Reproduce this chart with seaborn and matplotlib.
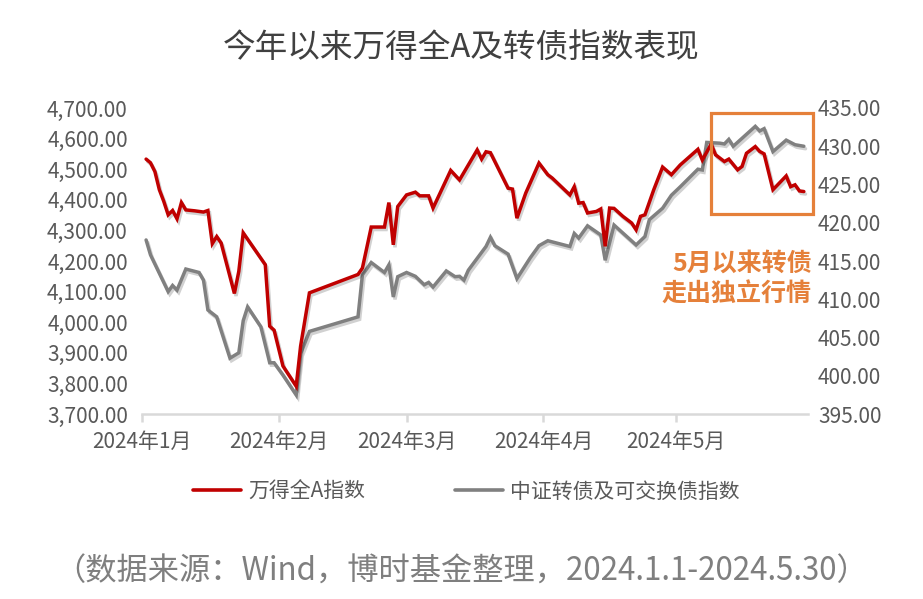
import matplotlib
matplotlib.use("Agg")
import matplotlib.pyplot as plt
import matplotlib.patheffects as pe
from matplotlib.patches import Rectangle
import seaborn as sns
import pandas as pd

# ---------------- data ----------------
red_dates = ["01-02", "01-03", "01-04", "01-05", "01-06", "01-07", "01-08", "01-09", "01-10", "01-11",
             "01-13", "01-15", "01-16", "01-17", "01-18", "01-19", "01-22", "01-23", "01-24", "01-29",
             "01-30", "01-31", "02-02", "02-05", "02-06", "02-08", "02-19", "02-20", "02-22", "02-25",
             "02-26", "02-27", "02-28", "03-01", "03-03", "03-04", "03-06", "03-07", "03-11", "03-13",
             "03-17", "03-18", "03-19", "03-20", "03-22", "03-24", "03-25", "03-26", "03-28", "03-31",
             "04-02", "04-03", "04-07", "04-08", "04-09", "04-10", "04-11", "04-13", "04-14", "04-15",
             "04-16", "04-17", "04-19", "04-21", "04-22", "04-23", "04-24", "04-26", "04-28", "04-30",
             "05-02", "05-06", "05-07", "05-09", "05-10", "05-12", "05-13", "05-15", "05-16", "05-17",
             "05-19", "05-20", "05-21", "05-23", "05-26", "05-27", "05-28", "05-29", "05-30"]
red_values = [4533, 4521, 4492, 4433, 4395, 4351, 4365, 4338, 4391, 4367,
              4364, 4360, 4365, 4257, 4280, 4259, 4094, 4166, 4292, 4188,
              3987, 3974, 3857, 3791, 3922, 4096, 4156, 4177, 4311, 4311,
              4391, 4253, 4378, 4416, 4425, 4413, 4413, 4373, 4496, 4465,
              4563, 4533, 4557, 4554, 4496, 4438, 4435, 4340, 4422, 4520,
              4482, 4471, 4416, 4443, 4389, 4391, 4357, 4362, 4370, 4248,
              4373, 4372, 4346, 4324, 4302, 4346, 4351, 4433, 4507, 4482,
              4514, 4565, 4530, 4582, 4547, 4525, 4533, 4498, 4509, 4552,
              4574, 4558, 4550, 4433, 4478, 4443, 4449, 4429, 4427]

gray_dates = ["01-02", "01-03", "01-05", "01-07", "01-08", "01-09", "01-11", "01-14", "01-15", "01-16",
              "01-18", "01-21", "01-23", "01-24", "01-25", "01-28", "01-30", "01-31", "02-02", "02-05",
              "02-06", "02-08", "02-19", "02-20", "02-22", "02-25", "02-26", "02-27", "02-28", "03-01",
              "03-03", "03-05", "03-06", "03-07", "03-10", "03-12", "03-13", "03-14", "03-15", "03-19",
              "03-20", "03-21", "03-24", "03-26", "03-29", "03-31", "04-02", "04-07", "04-08", "04-09",
              "04-11", "04-14", "04-15", "04-17", "04-22", "04-24", "04-25", "04-28", "04-30", "05-02",
              "05-06", "05-07", "05-08", "05-11", "05-12", "05-13", "05-14", "05-19", "05-20", "05-21",
              "05-23", "05-26", "05-28", "05-30"]
gray_values = [417.75, 415.8, 413.4, 411.0, 411.8, 411.2, 413.95, 413.5, 412.5, 408.6,
               407.7, 402.3, 403.0, 407.2, 409.0, 406.4, 401.7, 401.7, 400.1, 397.5,
               402.9, 405.8, 407.7, 413.2, 414.8, 413.5, 414.5, 410.3, 412.95, 413.5,
               413.0, 411.9, 412.2, 411.6, 413.7, 412.95, 413.0, 412.5, 413.8, 416.9,
               418.1, 417.0, 415.9, 412.7, 415.4, 417.0, 417.65, 416.9, 418.6, 418.0,
               419.6, 418.4, 415.1, 419.7, 417.1, 418.2, 420.4, 421.9, 423.6, 424.7,
               427.0, 426.9, 430.5, 430.4, 430.3, 430.9, 430.0, 432.6, 432.0, 432.3,
               429.3, 430.8, 430.2, 430.0]

month_ticks = ["2024-01-01", "2024-02-01", "2024-03-01", "2024-04-01", "2024-05-01"]
month_labels = ["2024年1月", "2024年2月", "2024年3月", "2024年4月", "2024年5月"]
left_ticks = list(range(3700, 4701, 100))
right_ticks = list(range(395, 436, 5))

title = "今年以来万得全A及转债指数表现"
series_red = "万得全A指数"
series_gray = "中证转债及可交换债指数"
note = "5月以来转债\n走出独立行情"
source = "（数据来源：Wind，博时基金整理，2024.1.1-2024.5.30）"

# ---------------- style ----------------
sns.set_theme(style="white")
plt.rcParams["font.family"] = ["Noto Sans CJK SC", "DejaVu Sans"]

RED = "#C00000"
GRAY = "#808080"
ORANGE = "#E5803A"
TICK_C = "#595959"

df_red = pd.DataFrame({"date": pd.to_datetime(["2024-" + d for d in red_dates]), "value": red_values})
df_gray = pd.DataFrame({"date": pd.to_datetime(["2024-" + d for d in gray_dates]), "value": gray_values})

fig = plt.figure(figsize=(9.23, 5.99), dpi=100)
ax = fig.add_axes([0.1535, 0.3088, 0.7222, 0.5109])
ax2 = ax.twinx()

shadow = [pe.SimpleLineShadow(offset=(1.2, -1.8), alpha=0.18, shadow_color="black"), pe.Normal()]

sns.lineplot(data=df_gray, x="date", y="value", ax=ax2, color=GRAY, linewidth=2.5,
             label=series_gray, legend=False)
sns.lineplot(data=df_red, x="date", y="value", ax=ax, color=RED, linewidth=2.5,
             label=series_red, legend=False)
for ln in ax.get_lines() + ax2.get_lines():
    ln.set_path_effects(shadow)
    ln.set_solid_joinstyle("miter")

# draw red above gray
ax.set_zorder(ax2.get_zorder() + 1)
ax.patch.set_visible(False)

ax.set_xlim(pd.Timestamp("2024-01-01"), pd.Timestamp("2024-05-31"))
ax.set_ylim(3700, 4700)
ax2.set_ylim(395, 435)

ax.set_xticks(pd.to_datetime(month_ticks))
ax.set_xticklabels(month_labels)
ax.set_yticks(left_ticks)
ax.set_yticklabels([f"{v:,.2f}" for v in left_ticks])
ax2.set_yticks(right_ticks)
ax2.set_yticklabels([f"{v:,.2f}" for v in right_ticks])

for a in (ax, ax2):
    for s in a.spines.values():
        s.set_visible(False)
    a.set_xlabel("")
    a.set_ylabel("")
    a.grid(False)
ax.spines["bottom"].set_visible(True)
ax.spines["bottom"].set_color("#D9D9D9")
ax.spines["bottom"].set_linewidth(1.8)

ax.tick_params(axis="x", which="major", length=6, width=1.8, color="#D9D9D9",
               direction="out", pad=6, labelsize=15, labelcolor=TICK_C, bottom=True)
ax.tick_params(axis="y", length=0, pad=10, labelsize=15, labelcolor=TICK_C)
ax2.tick_params(axis="y", length=0, pad=7, labelsize=15, labelcolor=TICK_C)

# title
fig.text(0.5, 0.92, title, ha="center", va="center", fontsize=23.5, color="#404040")

# legend
h1 = ax.get_lines()[0]
h2 = ax2.get_lines()[0]
leg = fig.legend([h1, h2], [series_red, series_gray], loc="center", bbox_to_anchor=(0.505, 0.179),
                 ncol=2, frameon=False, fontsize=15, handlelength=2.3, columnspacing=4.3,
                 handletextpad=0.35, labelcolor=TICK_C)
for lh in leg.get_lines():
    lh.set_path_effects([])
    lh.set_linewidth(2.6)

# annotation box and text
fig.patches.append(Rectangle((0.7703, 0.6427), 0.1105, 0.1686, transform=fig.transFigure,
                             fill=False, edgecolor=ORANGE, linewidth=2.3, zorder=10))
fig.text(0.8797, 0.534, note, ha="right", va="center", fontsize=18, fontweight="bold",
         color=ORANGE, linespacing=1.35)

# source
fig.text(0.5, 0.045, source, ha="center", va="center", fontsize=22.5, color="#7F7F7F")

fig.savefig("out.png", dpi=100)
